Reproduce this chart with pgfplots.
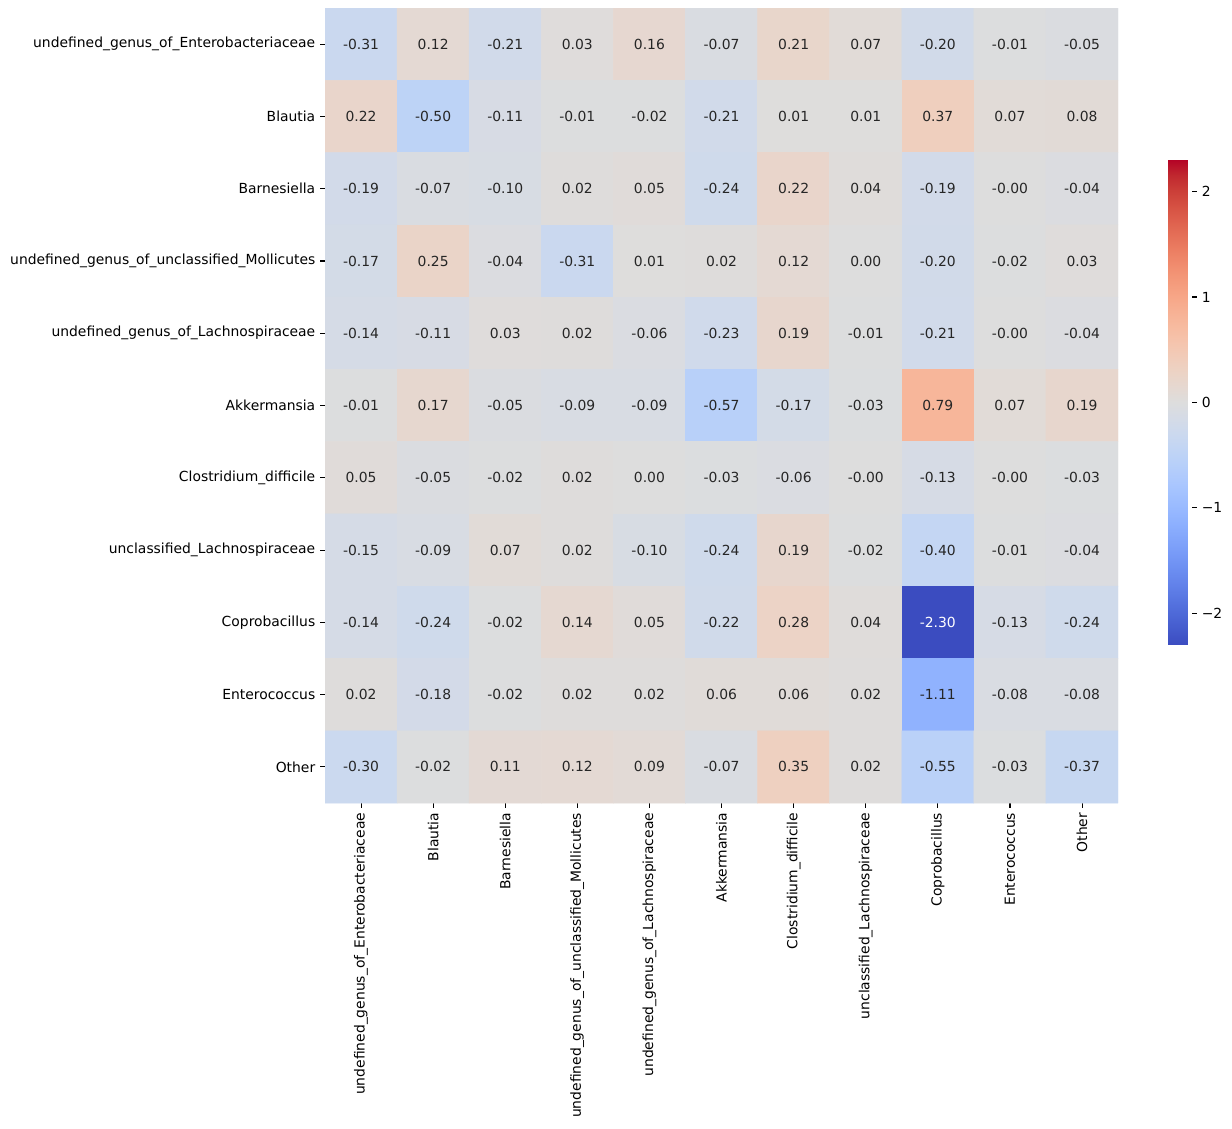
\documentclass[border=0pt]{standalone}
\usepackage{fontspec}
\setmainfont{DejaVu Sans}
\usepackage{pgfplots}
\usepackage{pgfplotstable}
\pgfplotsset{compat=1.18}
\definecolor{annot}{RGB}{38,38,38}
\pgfplotstableread{
x y z
0 0 -0.31
1 0 0.12
2 0 -0.21
3 0 0.03
4 0 0.16
5 0 -0.07
6 0 0.21
7 0 0.07
8 0 -0.20
9 0 -0.01
10 0 -0.05
0 1 0.22
1 1 -0.50
2 1 -0.11
3 1 -0.01
4 1 -0.02
5 1 -0.21
6 1 0.01
7 1 0.01
8 1 0.37
9 1 0.07
10 1 0.08
0 2 -0.19
1 2 -0.07
2 2 -0.10
3 2 0.02
4 2 0.05
5 2 -0.24
6 2 0.22
7 2 0.04
8 2 -0.19
9 2 -0.00
10 2 -0.04
0 3 -0.17
1 3 0.25
2 3 -0.04
3 3 -0.31
4 3 0.01
5 3 0.02
6 3 0.12
7 3 0.00
8 3 -0.20
9 3 -0.02
10 3 0.03
0 4 -0.14
1 4 -0.11
2 4 0.03
3 4 0.02
4 4 -0.06
5 4 -0.23
6 4 0.19
7 4 -0.01
8 4 -0.21
9 4 -0.00
10 4 -0.04
0 5 -0.01
1 5 0.17
2 5 -0.05
3 5 -0.09
4 5 -0.09
5 5 -0.57
6 5 -0.17
7 5 -0.03
8 5 0.79
9 5 0.07
10 5 0.19
0 6 0.05
1 6 -0.05
2 6 -0.02
3 6 0.02
4 6 0.00
5 6 -0.03
6 6 -0.06
7 6 -0.00
8 6 -0.13
9 6 -0.00
10 6 -0.03
0 7 -0.15
1 7 -0.09
2 7 0.07
3 7 0.02
4 7 -0.10
5 7 -0.24
6 7 0.19
7 7 -0.02
8 7 -0.40
9 7 -0.01
10 7 -0.04
0 8 -0.14
1 8 -0.24
2 8 -0.02
3 8 0.14
4 8 0.05
5 8 -0.22
6 8 0.28
7 8 0.04
8 8 -2.30
9 8 -0.13
10 8 -0.24
0 9 0.02
1 9 -0.18
2 9 -0.02
3 9 0.02
4 9 0.02
5 9 0.06
6 9 0.06
7 9 0.02
8 9 -1.11
9 9 -0.08
10 9 -0.08
0 10 -0.30
1 10 -0.02
2 10 0.11
3 10 0.12
4 10 0.09
5 10 -0.07
6 10 0.35
7 10 0.02
8 10 -0.55
9 10 -0.03
10 10 -0.37
}\datatable
\begin{document}
\begin{tikzpicture}
\begin{axis}[
  at={(0,0)}, anchor=north west,
  scale only axis, width=571pt, height=572.4pt,
  xmin=-0.5, xmax=10.5, ymin=-0.5, ymax=10.5, y dir=reverse,
  enlargelimits=false,
  axis line style={draw=none},
  xtick={0,...,10}, ytick={0,...,10},
  xticklabels={undefined\_genus\_of\_Enterobacteriaceae, Blautia, Barnesiella, undefined\_genus\_of\_unclassified\_Mollicutes, undefined\_genus\_of\_Lachnospiraceae, Akkermansia, Clostridium\_difficile, unclassified\_Lachnospiraceae, Coprobacillus, Enterococcus, Other},
  yticklabels={undefined\_genus\_of\_Enterobacteriaceae, Blautia, Barnesiella, undefined\_genus\_of\_unclassified\_Mollicutes, undefined\_genus\_of\_Lachnospiraceae, Akkermansia, Clostridium\_difficile, unclassified\_Lachnospiraceae, Coprobacillus, Enterococcus, Other},
  xtick pos=bottom, ytick pos=left,
  tick align=outside, major tick length=3.5pt,
  tick style={black, line width=0.8pt},
  xticklabel style={rotate=90, anchor=east},
  tick label style={font=\fontsize{10}{12}\selectfont},
  colormap={coolwarm}{rgb255=(59,76,192) rgb255=(68,90,204) rgb255=(77,104,215) rgb255=(87,117,225) rgb255=(98,130,234) rgb255=(108,142,241) rgb255=(119,154,247) rgb255=(130,165,251) rgb255=(141,176,254) rgb255=(152,185,255) rgb255=(163,194,255) rgb255=(174,201,253) rgb255=(184,208,249) rgb255=(194,213,244) rgb255=(204,217,238) rgb255=(213,219,230) rgb255=(221,221,221) rgb255=(229,216,209) rgb255=(236,211,197) rgb255=(241,204,185) rgb255=(245,196,173) rgb255=(247,187,160) rgb255=(247,177,148) rgb255=(247,166,135) rgb255=(244,154,123) rgb255=(241,141,111) rgb255=(236,127,99) rgb255=(229,112,88) rgb255=(222,96,77) rgb255=(213,80,66) rgb255=(203,62,56) rgb255=(192,40,47) rgb255=(180,4,38)},
  point meta min=-2.3, point meta max=2.3,
  colorbar,
  colorbar style={
    width=17.3pt, height=349.2pt,
    at={(parent axis.east)}, anchor=west, xshift=27.4pt, yshift=2.2pt,
    axis line style={draw=none},
    ytick={-2,-1,0,1,2}, yticklabels={−2,−1,0,1,2},
    ytick pos=right, yticklabel pos=right,
    tick align=outside, major tick length=3.5pt,
    tick style={black, line width=0.8pt},
    yticklabel style={font=\fontsize{10}{12}\selectfont},
  },
]
\addplot[matrix plot*, mesh/cols=11, point meta=explicit] table[x=x, y=y, meta=z] {\datatable};
\addplot[only marks, mark=none, point meta=explicit symbolic,
  nodes near coords={\ifdim\pgfplotspointmeta pt<-1.5pt\color{white}\else\color{annot}\fi\pgfplotspointmeta},
  every node near coord/.append style={font=\fontsize{10}{12}\selectfont, anchor=center}]
  table[x=x, y=y, meta=z] {\datatable};
\end{axis}
\pgfresetboundingbox
\path (-234pt,5.76pt) rectangle (653pt,-806.4pt);
\end{tikzpicture}
\end{document}
